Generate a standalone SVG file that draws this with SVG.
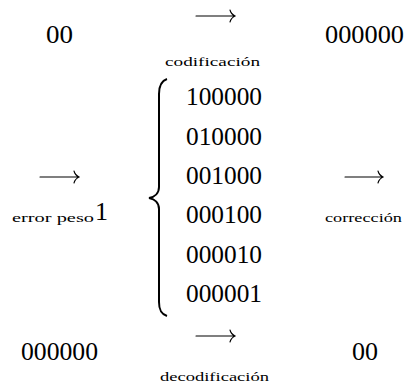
<svg xmlns="http://www.w3.org/2000/svg" width="406" height="385" viewBox="0 0 406 385">
<style>
.big{font-family:"Liberation Serif","DejaVu Serif",serif;font-size:26px;fill:#000}
.sm{font-family:"Liberation Serif","DejaVu Serif",serif;font-size:13px;fill:#000}
.arr{fill:none;stroke:#000;stroke-width:1.1;stroke-linecap:round}
</style>
<rect width="406" height="385" fill="#fff"/>
<g id="top-left"><text class="big" x="46" y="43" textLength="27" lengthAdjust="spacingAndGlyphs">00</text></g>
<g id="top-right"><text class="big" x="325" y="43" textLength="79" lengthAdjust="spacingAndGlyphs">000000</text></g>
<g id="lbl-codificacion"><text class="sm" x="165" y="66" textLength="95" lengthAdjust="spacingAndGlyphs">codificación</text></g>
<g id="lbl-error"><text class="sm" x="12" y="222" textLength="82" lengthAdjust="spacingAndGlyphs">error peso</text><text class="big" x="95" y="220">1</text></g>
<g id="cases">
<path d="M167,79 C161,81 159,86 159,94 L159,187 C159,193 155,197 149,198 C155,199 159,203 159,209 L159,302 C159,310 161,314 167,316" fill="none" stroke="#000" stroke-width="2"/>
<text class="big" x="186" y="105" textLength="76" lengthAdjust="spacingAndGlyphs">100000</text>
<text class="big" x="186" y="144.5" textLength="76" lengthAdjust="spacingAndGlyphs">010000</text>
<text class="big" x="186" y="184" textLength="76" lengthAdjust="spacingAndGlyphs">001000</text>
<text class="big" x="186" y="223" textLength="76" lengthAdjust="spacingAndGlyphs">000100</text>
<text class="big" x="186" y="262.5" textLength="76" lengthAdjust="spacingAndGlyphs">000010</text>
<text class="big" x="186" y="302" textLength="76" lengthAdjust="spacingAndGlyphs">000001</text>
</g>
<g id="lbl-correccion"><text class="sm" x="325" y="222" textLength="77" lengthAdjust="spacingAndGlyphs">corrección</text></g>
<g id="bottom-left"><text class="big" x="21" y="360" textLength="77" lengthAdjust="spacingAndGlyphs">000000</text></g>
<g id="bottom-right"><text class="big" x="352" y="360" textLength="26" lengthAdjust="spacingAndGlyphs">00</text></g>
<g id="lbl-decodificacion"><text class="sm" x="160" y="381" textLength="109" lengthAdjust="spacingAndGlyphs">decodificación</text></g>
<g id="connectors">
<path class="arr" d="M196,16 H235 M230,10 Q231,14 235,16 Q231,18 230,22"/>
<path class="arr" d="M40,177 H79 M74,171 Q75,175 79,177 Q75,179 74,183"/>
<path class="arr" d="M345,177 H383 M378,171 Q379,175 383,177 Q379,179 378,183"/>
<path class="arr" d="M196,336 H235 M230,330 Q231,334 235,336 Q231,338 230,342"/>
</g>
</svg>
